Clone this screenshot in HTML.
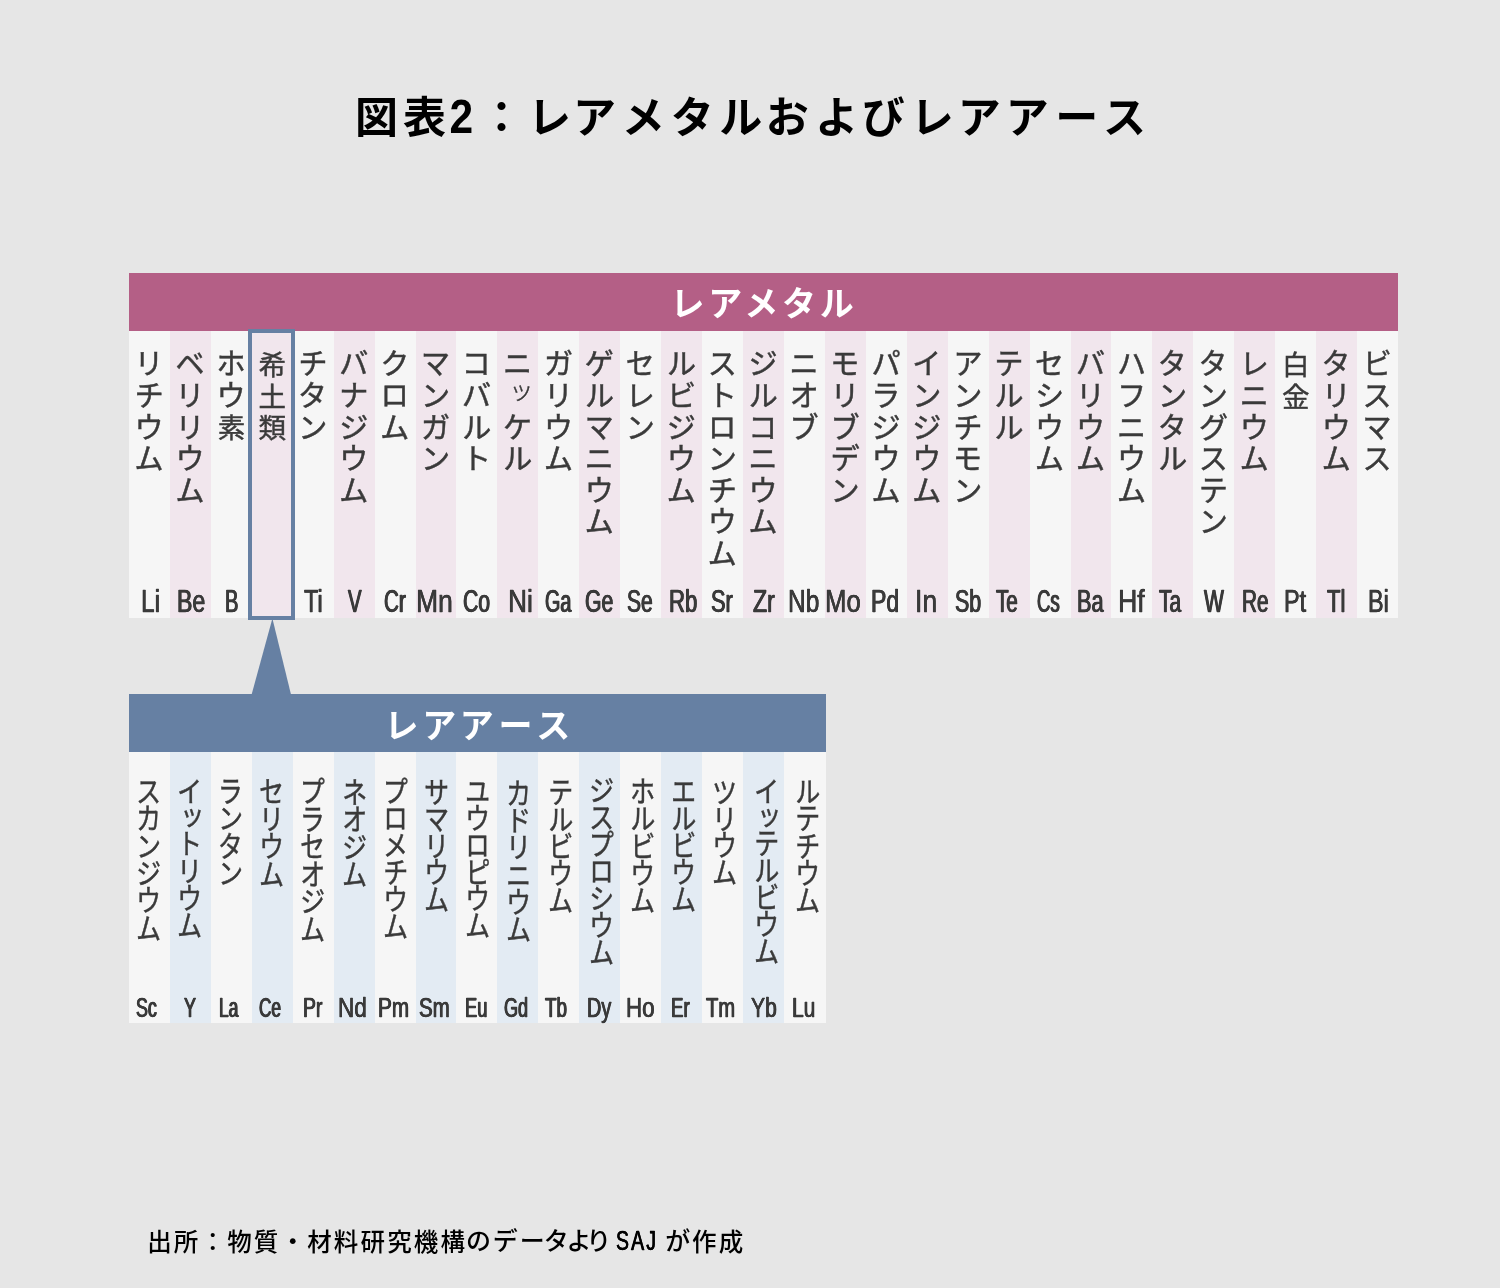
<!DOCTYPE html>
<html lang="ja"><head><meta charset="utf-8"><title>図表2：レアメタルおよびレアアース</title>
<style>
html,body{margin:0;padding:0}
body{width:1500px;height:1288px;background:#e6e6e6;position:relative;overflow:hidden;font-family:"Liberation Sans","Noto Sans CJK JP",sans-serif;color:#3a3a3a}
.b,.c,.hd,.v,.s,#title,#src,svg{position:absolute}
.hd{color:#fff;text-align:center;white-space:nowrap;font-weight:700;font-size:34px;letter-spacing:3.7px;height:58px;line-height:58px}
.v{writing-mode:vertical-rl;text-orientation:upright;white-space:nowrap;font-weight:400;transform-origin:50% 0;-webkit-text-stroke:0.45px #3a3a3a}
.m .c{top:331px;height:286.5px;width:40.94px}
.r .c{top:752px;height:271.3px;width:40.94px}
.m .v{top:347.7px;width:40.94px;line-height:40.94px;font-size:30px;letter-spacing:1.6px;transform:scaleX(1)}
.r .v{top:775.9px;width:40.94px;line-height:40.94px;font-size:29.5px;letter-spacing:-2.15px;transform:scaleX(0.87)}
.k{font-size:27.5px;letter-spacing:4.1px;position:relative;top:3.4px;left:0.5px}
.q{font-weight:300;font-size:26px;letter-spacing:5.6px;position:relative;top:1px;left:1.5px}
.t{letter-spacing:-4.65px}
.s{white-space:nowrap;transform-origin:0 0;-webkit-text-stroke:0.3px #3a3a3a}
.m .s{top:585.7px;font-size:30.6px;line-height:30.6px}
.r .s{top:993.9px;font-size:27.2px;line-height:27.2px}
.p{background:#f1e6ed}.l{background:#f6f6f6}.u{background:#e3ebf3}
#title{left:0;width:1500px;text-align:center;white-space:nowrap;font-weight:700;color:#000;top:86px;font-size:43px;line-height:64px;letter-spacing:5px}
#title span{position:relative}
#title .d{display:inline-block;font-size:48.3px;line-height:1;letter-spacing:0;transform:scaleX(0.88);transform-origin:50% 50%;margin:0 3.52px 0 -1.48px;left:-1.2px;top:0px}
#src{white-space:nowrap;color:#000;font-weight:500;top:1222px;font-size:26.66px;line-height:38px}
#src span{position:absolute;top:0;white-space:nowrap;transform-origin:0 50%}
#src .j{font-size:24.5px;letter-spacing:2.16px;top:1.5px}
#src .n{font-size:25px;top:-0.2px}
#src .e{font-size:27px;letter-spacing:3px;transform:scaleX(0.72);-webkit-text-stroke:0.3px #000;text-shadow:0.5px 0 0 #000,-0.5px 0 0 #000}
</style></head><body>
<div id="title" style="left:0px">図表<span class="d">2</span>：レ<span style="left:-3px">ア</span>メ<span style="left:1px">タ</span><span style="left:1.5px">ル</span>お<span style="left:1.5px">よ</span>び<span style="left:1px">レ</span>アア<span style="left:4px">ー</span><span style="left:6px">ス</span></div>
<div class="m">
<div class="b" style="left:129px;top:273px;width:1269px;height:58px;background:#b45f86"></div>
<div class="hd" style="left:129.45px;top:275px;width:1269px">レアメタル</div>
<div class="c l" style="left:129px"></div>
<div class="c p" style="left:169.94px"></div>
<div class="c l" style="left:210.87px"></div>
<div class="c p" style="left:251.81px"></div>
<div class="c l" style="left:292.74px"></div>
<div class="c p" style="left:333.68px"></div>
<div class="c l" style="left:374.61px"></div>
<div class="c p" style="left:415.55px"></div>
<div class="c l" style="left:456.48px"></div>
<div class="c p" style="left:497.42px"></div>
<div class="c l" style="left:538.35px"></div>
<div class="c p" style="left:579.29px"></div>
<div class="c l" style="left:620.23px"></div>
<div class="c p" style="left:661.16px"></div>
<div class="c l" style="left:702.1px"></div>
<div class="c p" style="left:743.03px"></div>
<div class="c l" style="left:783.97px"></div>
<div class="c p" style="left:824.9px"></div>
<div class="c l" style="left:865.84px"></div>
<div class="c p" style="left:906.77px"></div>
<div class="c l" style="left:947.71px"></div>
<div class="c p" style="left:988.65px"></div>
<div class="c l" style="left:1029.58px"></div>
<div class="c p" style="left:1070.52px"></div>
<div class="c l" style="left:1111.45px"></div>
<div class="c p" style="left:1152.39px"></div>
<div class="c l" style="left:1193.32px"></div>
<div class="c p" style="left:1234.26px"></div>
<div class="c l" style="left:1275.19px"></div>
<div class="c p" style="left:1316.13px"></div>
<div class="c l" style="left:1357.06px"></div>
<div class="v" style="left:125.1px">リチウム</div>
<div class="s" style="left:141.13px;transform:scaleX(0.8013);text-shadow:0.4px 0 0 #3a3a3a,-0.4px 0 0 #3a3a3a">Li</div>
<div class="v" style="left:166.04px">ベリリウム</div>
<div class="s" style="left:177.11px;transform:scaleX(0.7536);text-shadow:0.52px 0 0 #3a3a3a,-0.52px 0 0 #3a3a3a">Be</div>
<div class="v" style="left:206.97px">ホウ<span class="k">素</span></div>
<div class="s" style="left:225.19px;transform:scaleX(0.6575);text-shadow:0.82px 0 0 #3a3a3a,-0.82px 0 0 #3a3a3a">B</div>
<div class="v" style="left:247.91px"><span class="k">希</span><span class="k">土</span><span class="k">類</span></div>
<div class="v" style="left:288.84px">チタン</div>
<div class="s" style="left:303.96px;transform:scaleX(0.7646);text-shadow:0.49px 0 0 #3a3a3a,-0.49px 0 0 #3a3a3a">Ti</div>
<div class="v" style="left:329.78px">バナジウム</div>
<div class="s" style="left:348.23px;transform:scaleX(0.6628);text-shadow:0.8px 0 0 #3a3a3a,-0.8px 0 0 #3a3a3a">V</div>
<div class="v" style="left:370.71px">クロム</div>
<div class="s" style="left:383.79px;transform:scaleX(0.6733);text-shadow:0.77px 0 0 #3a3a3a,-0.77px 0 0 #3a3a3a">Cr</div>
<div class="v" style="left:411.65px">マンガン</div>
<div class="s" style="left:416.17px;transform:scaleX(0.8678);text-shadow:0.25px 0 0 #3a3a3a,-0.25px 0 0 #3a3a3a">Mn</div>
<div class="v" style="left:452.58px">コバルト</div>
<div class="s" style="left:462.83px;transform:scaleX(0.6942);text-shadow:0.7px 0 0 #3a3a3a,-0.7px 0 0 #3a3a3a">Co</div>
<div class="v" style="left:493.52px">ニ<span class="q">ッ</span>ケル</div>
<div class="s" style="left:508.19px;transform:scaleX(0.8623);text-shadow:0.26px 0 0 #3a3a3a,-0.26px 0 0 #3a3a3a">Ni</div>
<div class="v" style="left:534.45px">ガリウム</div>
<div class="s" style="left:545.47px;transform:scaleX(0.6457);text-shadow:0.86px 0 0 #3a3a3a,-0.86px 0 0 #3a3a3a">Ga</div>
<div class="v" style="left:575.39px">ゲルマニウム</div>
<div class="s" style="left:585.33px;transform:scaleX(0.6937);text-shadow:0.7px 0 0 #3a3a3a,-0.7px 0 0 #3a3a3a">Ge</div>
<div class="v" style="left:616.33px">セレン</div>
<div class="s" style="left:627.15px;transform:scaleX(0.6861);text-shadow:0.72px 0 0 #3a3a3a,-0.72px 0 0 #3a3a3a">Se</div>
<div class="v" style="left:657.26px">ルビジウム</div>
<div class="s" style="left:668.73px;transform:scaleX(0.7243);text-shadow:0.6px 0 0 #3a3a3a,-0.6px 0 0 #3a3a3a">Rb</div>
<div class="v" style="left:698.2px">ストロンチウム</div>
<div class="s" style="left:711.28px;transform:scaleX(0.7131);text-shadow:0.64px 0 0 #3a3a3a,-0.64px 0 0 #3a3a3a">Sr</div>
<div class="v" style="left:739.13px">ジルコニウム</div>
<div class="s" style="left:753.07px;transform:scaleX(0.7549);text-shadow:0.52px 0 0 #3a3a3a,-0.52px 0 0 #3a3a3a">Zr</div>
<div class="v" style="left:780.07px">ニオブ</div>
<div class="s" style="left:788.43px;transform:scaleX(0.801);text-shadow:0.4px 0 0 #3a3a3a,-0.4px 0 0 #3a3a3a">Nb</div>
<div class="v" style="left:821px">モリブデン</div>
<div class="s" style="left:824.98px;transform:scaleX(0.84);text-shadow:0.31px 0 0 #3a3a3a,-0.31px 0 0 #3a3a3a">Mo</div>
<div class="v" style="left:861.94px">パラジウム</div>
<div class="s" style="left:871.12px;transform:scaleX(0.7524);text-shadow:0.52px 0 0 #3a3a3a,-0.52px 0 0 #3a3a3a">Pd</div>
<div class="v" style="left:902.87px">インジウム</div>
<div class="s" style="left:915.39px;transform:scaleX(0.8683);text-shadow:0.25px 0 0 #3a3a3a,-0.25px 0 0 #3a3a3a">In</div>
<div class="v" style="left:943.81px">アンチモン</div>
<div class="s" style="left:954.92px;transform:scaleX(0.7002);text-shadow:0.68px 0 0 #3a3a3a,-0.68px 0 0 #3a3a3a">Sb</div>
<div class="v" style="left:984.75px">テルル</div>
<div class="s" style="left:995.95px;transform:scaleX(0.6758);text-shadow:0.76px 0 0 #3a3a3a,-0.76px 0 0 #3a3a3a">Te</div>
<div class="v" style="left:1025.68px">セシウム</div>
<div class="s" style="left:1037.28px;transform:scaleX(0.6065);text-shadow:1.02px 0 0 #3a3a3a,-1.02px 0 0 #3a3a3a">Cs</div>
<div class="v" style="left:1066.62px">バリウム</div>
<div class="s" style="left:1077.09px;transform:scaleX(0.7093);text-shadow:0.65px 0 0 #3a3a3a,-0.65px 0 0 #3a3a3a">Ba</div>
<div class="v" style="left:1107.55px">ハフニウム</div>
<div class="s" style="left:1118.14px;transform:scaleX(0.8742);text-shadow:0.24px 0 0 #3a3a3a,-0.24px 0 0 #3a3a3a">Hf</div>
<div class="v" style="left:1148.49px">タンタル</div>
<div class="s" style="left:1159.33px;transform:scaleX(0.6826);text-shadow:0.73px 0 0 #3a3a3a,-0.73px 0 0 #3a3a3a">Ta</div>
<div class="v" style="left:1189.42px">タングステン</div>
<div class="s" style="left:1204.19px;transform:scaleX(0.6887);text-shadow:0.71px 0 0 #3a3a3a,-0.71px 0 0 #3a3a3a">W</div>
<div class="v" style="left:1230.36px">レニウム</div>
<div class="s" style="left:1242.11px;transform:scaleX(0.6767);text-shadow:0.75px 0 0 #3a3a3a,-0.75px 0 0 #3a3a3a">Re</div>
<div class="v" style="left:1271.29px"><span class="k">白</span><span class="k">金</span></div>
<div class="s" style="left:1284.37px;transform:scaleX(0.7648);text-shadow:0.49px 0 0 #3a3a3a,-0.49px 0 0 #3a3a3a">Pt</div>
<div class="v" style="left:1312.23px">タリウム</div>
<div class="s" style="left:1326.76px;transform:scaleX(0.7206);text-shadow:0.61px 0 0 #3a3a3a,-0.61px 0 0 #3a3a3a">Tl</div>
<div class="v" style="left:1353.16px">ビスマス</div>
<div class="s" style="left:1368.27px;transform:scaleX(0.7644);text-shadow:0.49px 0 0 #3a3a3a,-0.49px 0 0 #3a3a3a">Bi</div>
</div>
<div class="b" style="left:248.4px;top:329px;width:46.8px;height:290.7px;border:4px solid #6680a3;box-sizing:border-box"></div>
<svg style="left:0;top:0" width="1500" height="1288" viewBox="0 0 1500 1288"><polygon points="272.4,618.6 291,694.5 251.6,694.5" fill="#6680a3"/></svg>
<div class="r">
<div class="b" style="left:129px;top:694px;width:697px;height:58px;background:#6680a3"></div>
<div class="hd" style="left:128.35px;top:696.5px;width:697px">レアア<span style="position:relative;left:3px">ー</span><span style="position:relative;left:4.7px">ス</span></div>
<div class="c l" style="left:129px"></div>
<div class="c u" style="left:169.94px"></div>
<div class="c l" style="left:210.87px"></div>
<div class="c u" style="left:251.81px"></div>
<div class="c l" style="left:292.74px"></div>
<div class="c u" style="left:333.68px"></div>
<div class="c l" style="left:374.61px"></div>
<div class="c u" style="left:415.55px"></div>
<div class="c l" style="left:456.48px"></div>
<div class="c u" style="left:497.42px"></div>
<div class="c l" style="left:538.35px"></div>
<div class="c u" style="left:579.29px"></div>
<div class="c l" style="left:620.23px"></div>
<div class="c u" style="left:661.16px"></div>
<div class="c l" style="left:702.1px"></div>
<div class="c u" style="left:743.03px"></div>
<div class="c l" style="left:783.97px;width:42.03px"></div>
<div class="v" style="left:124.63px">スカンジウム</div>
<div class="s" style="left:136.34px;transform:scaleX(0.6549);text-shadow:0.83px 0 0 #3a3a3a,-0.83px 0 0 #3a3a3a">Sc</div>
<div class="v" style="left:165.83px">イ<span class="t">ッ</span>トリウム</div>
<div class="s" style="left:184.23px;transform:scaleX(0.6635);text-shadow:0.8px 0 0 #3a3a3a,-0.8px 0 0 #3a3a3a">Y</div>
<div class="v" style="left:207.03px">ランタン</div>
<div class="s" style="left:219.04px;transform:scaleX(0.6376);text-shadow:0.89px 0 0 #3a3a3a,-0.89px 0 0 #3a3a3a">La</div>
<div class="v" style="left:248.23px;top:775.9px;letter-spacing:-1.85px">セリウム</div>
<div class="s" style="left:258.81px;transform:scaleX(0.6316);text-shadow:0.91px 0 0 #3a3a3a,-0.91px 0 0 #3a3a3a">Ce</div>
<div class="v" style="left:289.43px;top:775.9px;letter-spacing:-1.95px">プラセオジム</div>
<div class="s" style="left:302.68px;transform:scaleX(0.7119);text-shadow:0.65px 0 0 #3a3a3a,-0.65px 0 0 #3a3a3a">Pr</div>
<div class="v" style="left:330.63px;top:777.2px;letter-spacing:-2.15px">ネオジム</div>
<div class="s" style="left:338.38px;transform:scaleX(0.8299);text-shadow:0.37px 0 0 #3a3a3a,-0.37px 0 0 #3a3a3a">Nd</div>
<div class="v" style="left:371.83px;top:776.3px;letter-spacing:-2.5px">プロメチウム</div>
<div class="s" style="left:377.51px;transform:scaleX(0.763);text-shadow:0.52px 0 0 #3a3a3a,-0.52px 0 0 #3a3a3a">Pm</div>
<div class="v" style="left:413.03px;top:777.4px;letter-spacing:-2.7px">サマリウム</div>
<div class="s" style="left:419.3px;transform:scaleX(0.7526);text-shadow:0.54px 0 0 #3a3a3a,-0.54px 0 0 #3a3a3a">Sm</div>
<div class="v" style="left:454.23px;top:776.1px;letter-spacing:-2.65px">ユウロピウム</div>
<div class="s" style="left:464.92px;transform:scaleX(0.6719);text-shadow:0.78px 0 0 #3a3a3a,-0.78px 0 0 #3a3a3a">Eu</div>
<div class="v" style="left:495.43px;top:778.1px;letter-spacing:-2.25px">カドリニウム</div>
<div class="s" style="left:504.43px;transform:scaleX(0.6641);text-shadow:0.8px 0 0 #3a3a3a,-0.8px 0 0 #3a3a3a">Gd</div>
<div class="v" style="left:536.63px;top:777.2px;letter-spacing:-2.5px">テルビウム</div>
<div class="s" style="left:544.87px;transform:scaleX(0.6939);text-shadow:0.71px 0 0 #3a3a3a,-0.71px 0 0 #3a3a3a">Tb</div>
<div class="v" style="left:577.83px;top:775.3px;letter-spacing:-2.55px">ジスプロシウム</div>
<div class="s" style="left:586.92px;transform:scaleX(0.7301);text-shadow:0.6px 0 0 #3a3a3a,-0.6px 0 0 #3a3a3a">Dy</div>
<div class="v" style="left:619.03px">ホルビウム</div>
<div class="s" style="left:626.4px;transform:scaleX(0.8217);text-shadow:0.38px 0 0 #3a3a3a,-0.38px 0 0 #3a3a3a">Ho</div>
<div class="v" style="left:660.23px;top:775.9px;letter-spacing:-2.55px">エルビウム</div>
<div class="s" style="left:671.08px;transform:scaleX(0.6847);text-shadow:0.74px 0 0 #3a3a3a,-0.74px 0 0 #3a3a3a">Er</div>
<div class="v" style="left:701.43px;top:777.2px;letter-spacing:-2.95px">ツリウム</div>
<div class="s" style="left:705.88px;transform:scaleX(0.7412);text-shadow:0.57px 0 0 #3a3a3a,-0.57px 0 0 #3a3a3a">Tm</div>
<div class="v" style="left:742.63px;top:775.9px;letter-spacing:-2.45px">イ<span class="t">ッ</span>テルビウム</div>
<div class="s" style="left:750.82px;transform:scaleX(0.7779);text-shadow:0.48px 0 0 #3a3a3a,-0.48px 0 0 #3a3a3a">Yb</div>
<div class="v" style="left:783.83px">ルテチウム</div>
<div class="s" style="left:791.78px;transform:scaleX(0.7706);text-shadow:0.5px 0 0 #3a3a3a,-0.5px 0 0 #3a3a3a">Lu</div>
</div>
<div id="src" style="left:0"><span class="j" style="left:147.2px">出所：物質・材料研究機構</span><span class="n" style="left:465.99px">の</span><span class="n" style="left:492.83px">デ</span><span class="n" style="left:519.76px">ー</span><span class="n" style="left:543.72px">タ</span><span class="n" style="left:566.4px">よ</span><span class="n" style="left:586.34px">り </span><span class="e" style="left:616px">SAJ</span><span class="n" style="left:665.18px"> が</span><span class="j" style="left:692px">作成</span></div>
</body></html>
